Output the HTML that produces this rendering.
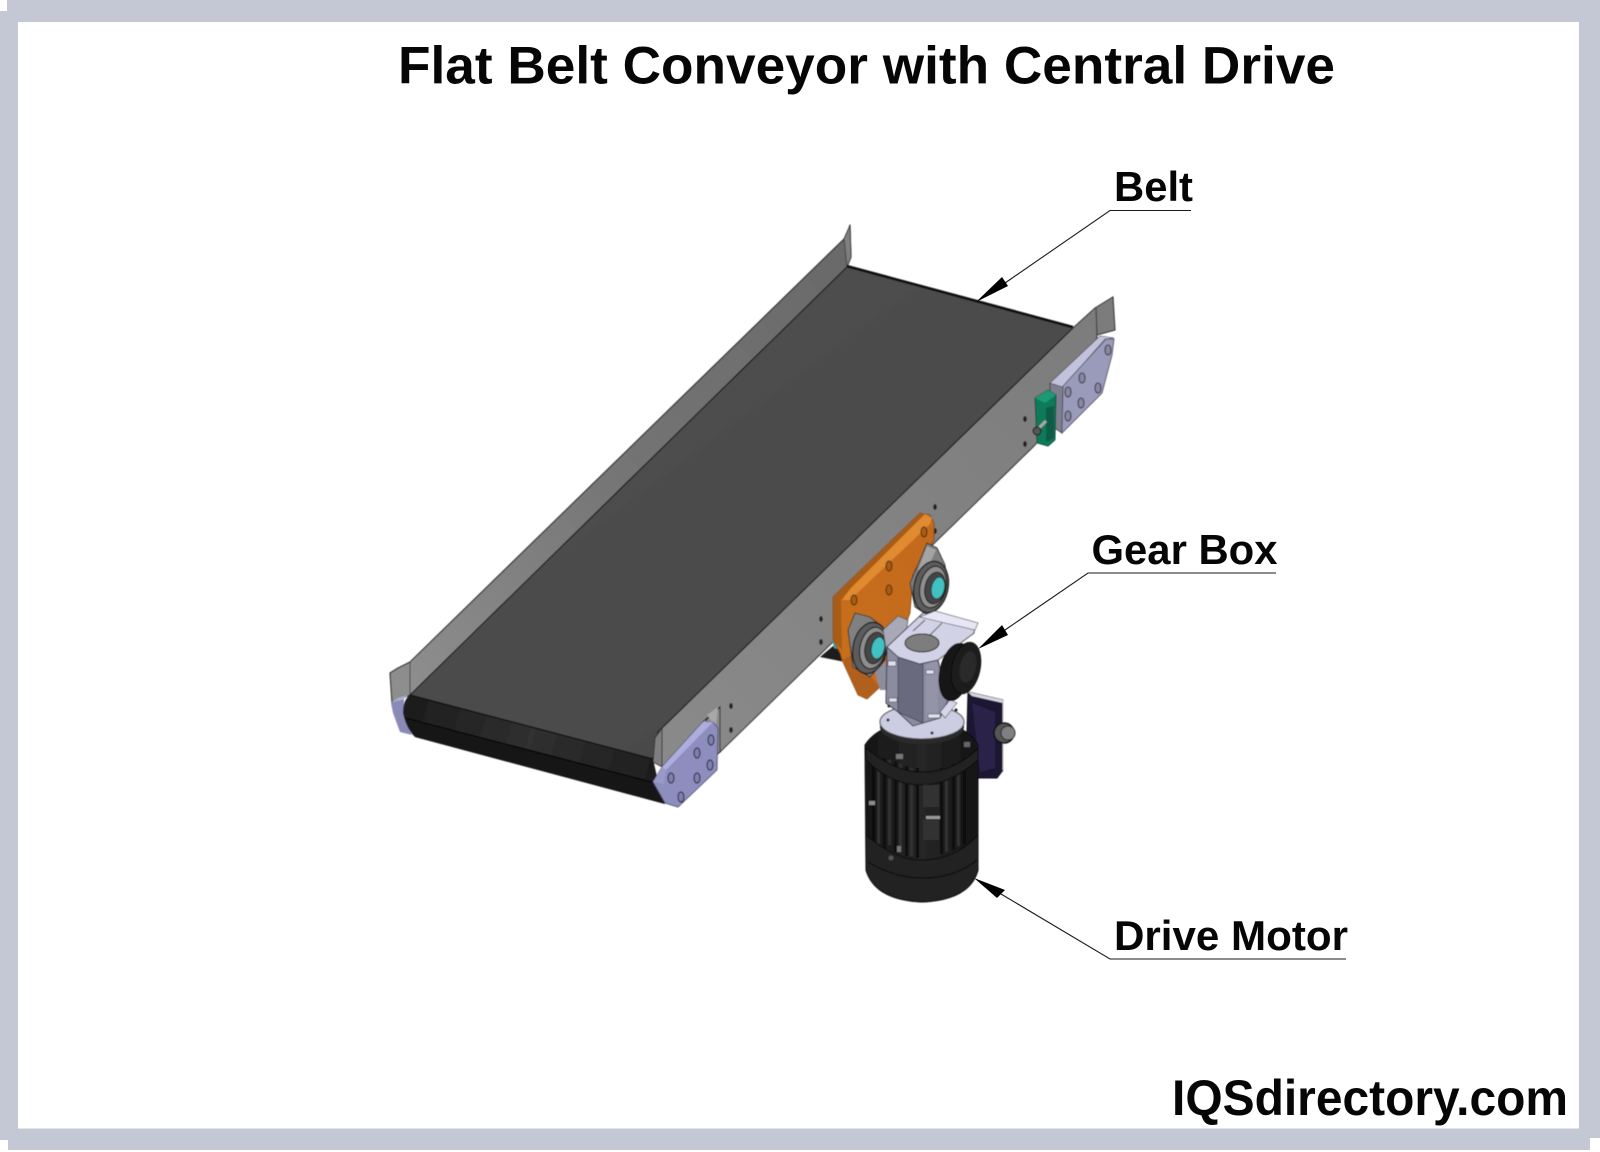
<!DOCTYPE html>
<html><head><meta charset="utf-8"><title>Flat Belt Conveyor with Central Drive</title>
<style>html,body{margin:0;padding:0;background:#fff}svg{display:block}text{font-family:"Liberation Sans",Arial,sans-serif;font-weight:bold;fill:#060606}</style></head>
<body>
<svg width="1600" height="1152" viewBox="0 0 1600 1152" xmlns="http://www.w3.org/2000/svg">
<defs>
<linearGradient id="belt" x1="0" y1="0" x2="1" y2="1"><stop offset="0" stop-color="#505050"/><stop offset="1" stop-color="#484848"/></linearGradient>
<linearGradient id="wallL" gradientUnits="userSpaceOnUse" x1="400" y1="680" x2="850" y2="245"><stop offset="0" stop-color="#8e8e8e"/><stop offset=".5" stop-color="#747474"/><stop offset="1" stop-color="#6a6a6a"/></linearGradient>
<linearGradient id="wallR" x1="0" y1="1" x2="1" y2="0"><stop offset="0" stop-color="#8a8a8a"/><stop offset="1" stop-color="#7c7c7c"/></linearGradient>
<linearGradient id="roll1" gradientUnits="userSpaceOnUse" x1="403" y1="700" x2="660" y2="770"><stop offset="0" stop-color="#1c1c1c"/><stop offset=".5" stop-color="#303030"/><stop offset="1" stop-color="#1e1e1e"/></linearGradient>
<linearGradient id="motor" x1="0" y1="0" x2="1" y2="0"><stop offset="0" stop-color="#161616"/><stop offset=".5" stop-color="#262626"/><stop offset="1" stop-color="#141414"/></linearGradient>
<linearGradient id="orange" x1="0" y1="1" x2="1" y2="0"><stop offset="0" stop-color="#c8701f"/><stop offset="1" stop-color="#c26a1c"/></linearGradient>
<filter id="soft"><feGaussianBlur stdDeviation="0.45"/></filter>
</defs>
<rect width="1600" height="1152" fill="#fff"/>
<polygon points="7,0 1600,0 1600,1138 1590,1138 1590,1150 8,1150 8,1140 0,1140 0,11 7,11" fill="#c3c8d4"/>
<rect x="18" y="22" width="1561" height="1106.5" fill="#fff"/>

<g filter="url(#soft)">
<!-- right side wall behind plates -->
<polygon points="662,728 1073,328 1095,308 1113,297 1115,330 1097,335 1095,378 1033,447 720,752 720,707 705,720 703,722 662,767" fill="url(#wallR)" stroke="#222" stroke-width="1"/>
<line x1="1096" y1="308" x2="1097" y2="335" stroke="#333" stroke-width="1"/>
<!-- left wall -->
<polygon points="390,673 398,668 410,662 844,239 849,228 850,225 851,257 847,267 410,695 392,703" fill="url(#wallL)" stroke="#222" stroke-width="1.1" stroke-linejoin="round"/>
<polygon points="844,239 849,228 850,225 851,257 847,267" fill="#7f7f7f" stroke="#333" stroke-width=".8"/>
<line x1="410" y1="662" x2="410" y2="695" stroke="#444" stroke-width="1"/>
<!-- belt -->
<polygon points="847,267 1073,328 658,732 653,759 410,695" fill="url(#belt)" stroke="#111" stroke-width="1.1" stroke-linejoin="round"/>
<line x1="847" y1="266" x2="1073" y2="327" stroke="#0a0a0a" stroke-width="2.4"/>
<polygon points="662,728 655,738 653,762 662,767" fill="#7e7e7e" stroke="#222" stroke-width=".8"/>
<!-- left end cap -->
<polygon points="391,703 404,699 404,717 412,735 400,732 393,713" fill="#8a8ab6"/>
<polygon points="391,703 404,699 408,695 398,698" fill="#aeaed4"/>
<!-- roller -->
<path d="M410,695 L653,759 L660,790 L665,804 L415,737 Q406,728 403,713 Q403,700 410,695 Z" fill="url(#roll1)"/>
<path d="M405,719 L655,783 L665,804 L415,737 Q408,730 405,719 Z" fill="#191919"/>
<line x1="405" y1="718" x2="655" y2="783" stroke="#060606" stroke-width="1.4"/>
<line x1="410" y1="695" x2="653" y2="759" stroke="#0a0a0a" stroke-width="1.2"/>
<!-- near plate -->
<polygon points="706,720 720,707 720,752 714,757" fill="#8a8a8a" stroke="#111" stroke-width="1"/>
<polygon points="707,715 718,707 716,725 712,722" fill="#a8a8a8"/>
<polygon points="653,782 662,767 703,722 713,722 718,728 717,770 678,807 665,803" fill="#8e8ebe" stroke="#444466" stroke-width=".8"/>
<polygon points="662,767 703,722 713,722 666,770" fill="#aeaede"/>
<polygon points="653,782 662,767 666,770 664,784" fill="#9a9ac8"/>
<g fill="#8080ae" stroke="#30304e" stroke-width="1.2">
<ellipse cx="711" cy="740" rx="3" ry="5"/><ellipse cx="697" cy="753" rx="3" ry="5"/><ellipse cx="710" cy="765" rx="3" ry="5"/><ellipse cx="697" cy="778" rx="3" ry="5"/><ellipse cx="671" cy="778" rx="3" ry="5"/><ellipse cx="681" cy="797" rx="3" ry="5"/></g>
<ellipse cx="731" cy="706" rx="1.8" ry="3" fill="#222"/><ellipse cx="731" cy="730" rx="1.8" ry="3" fill="#222"/>
<ellipse cx="1025" cy="419" rx="1.8" ry="3" fill="#222"/><ellipse cx="1025" cy="444" rx="1.8" ry="3" fill="#222"/>
<ellipse cx="821" cy="619" rx="1.8" ry="3" fill="#222"/><ellipse cx="821" cy="642" rx="1.8" ry="3" fill="#222"/>
<ellipse cx="935" cy="507" rx="1.8" ry="3" fill="#222"/><ellipse cx="935" cy="531" rx="1.8" ry="3" fill="#222"/>

<!-- far end plate -->
<polygon points="1050,383 1063,387 1062,433 1050,425" fill="#7e7e8e" stroke="#333" stroke-width=".8"/>
<polygon points="1050,383 1100,336 1114,338 1105,339 1063,387" fill="#c2c2dc" stroke="#445" stroke-width=".6"/>
<polygon points="1063,386 1106,339 1114,339 1112,355 1102,393 1062,433" fill="#9a9aba" stroke="#445" stroke-width=".8"/>
<g fill="#88889f" stroke="#383850" stroke-width="1.1">
<ellipse cx="1108" cy="350" rx="3" ry="5"/><ellipse cx="1082" cy="378" rx="3" ry="5"/><ellipse cx="1098" cy="388" rx="3" ry="5"/><ellipse cx="1068" cy="392" rx="3" ry="5"/><ellipse cx="1081" cy="403" rx="3" ry="5"/><ellipse cx="1068" cy="416" rx="3" ry="5"/></g>
<!-- green block -->
<polygon points="1035,398 1048,390 1056,395 1055,440 1048,446 1037,443" fill="#0f7a5a" stroke="#06392b" stroke-width=".8"/>
<polygon points="1035,398 1048,390 1056,395 1045,403" fill="#1f9a76"/>
<polygon points="1054,406 1046,408 1046,442 1054,438" fill="#0a5c44"/>
<line x1="1037" y1="430" x2="1046" y2="421" stroke="#aaa" stroke-width="3"/>
<circle cx="1037" cy="431" r="4" fill="#555" stroke="#111" stroke-width="1"/>

<!-- teal + black under plate -->
<polygon points="820,657 833,646 848,652 845,662" fill="#1e1e1e"/>
<polygon points="832,640 845,645 848,652 834,648" fill="#3fa8a0"/>
<!-- orange plate -->
<polygon points="833,597 843,587 920,513 930,515 934,523 934,540 913,573 910,613 880,687 867,699 858,695 842,660 840,653 833,640" fill="url(#orange)" stroke="#7a420e" stroke-width=".8"/>
<polygon points="833,597 843,587 920,513 925,514 851,588 841,600 842,650 833,640" fill="#a85c14"/>
<polygon points="842,600 851,588 925,514 932,518 930,524 850,600" fill="#e08a30"/>
<polygon points="842,660 852,655 880,687 867,699 858,695" fill="#b0601a"/>
<g fill="#a85c14" stroke="#4f2a08" stroke-width="1"><ellipse cx="924" cy="532" rx="3" ry="5"/><ellipse cx="889" cy="566" rx="3" ry="5"/><ellipse cx="889" cy="590" rx="3" ry="5"/><ellipse cx="854" cy="600" rx="3" ry="5"/></g>
<!-- upper bearing -->
<polygon points="927,543 937,548 945,565 947,590 934,605 923,612 915,607 910,583 917,567" fill="#7e7e7e" stroke="#2a2a2a" stroke-width=".9"/>
<polygon points="927,546 936,550 926,572 918,570" fill="#a4a4a4"/>
<ellipse cx="931" cy="587" rx="17" ry="26" fill="#5c5c5c" stroke="#1c1c1c" stroke-width="1.3" transform="rotate(12 931 587)"/>
<ellipse cx="933" cy="587" rx="13" ry="21" fill="#8e8e8e" stroke="#222" stroke-width="1.2" transform="rotate(12 933 587)"/>
<ellipse cx="935" cy="588" rx="10" ry="16" fill="#444" stroke="#222" stroke-width="1" transform="rotate(12 935 588)"/>
<ellipse cx="938" cy="588" rx="6.5" ry="11" fill="#3fc2c2" stroke="#333" stroke-width=".8" transform="rotate(12 938 588)"/>
<!-- lower bearing -->
<polygon points="855,613 870,617 883,627 885,660 870,677 853,667 848,630" fill="#808080" stroke="#2a2a2a" stroke-width=".9"/>
<ellipse cx="870" cy="648" rx="17" ry="26" fill="#5c5c5c" stroke="#1c1c1c" stroke-width="1.3" transform="rotate(12 870 648)"/>
<ellipse cx="873" cy="648" rx="13" ry="21" fill="#8e8e8e" stroke="#222" stroke-width="1.2" transform="rotate(12 873 648)"/>
<ellipse cx="875" cy="648" rx="10" ry="16" fill="#444" stroke="#222" stroke-width="1" transform="rotate(12 875 648)"/>
<ellipse cx="878" cy="648" rx="6.5" ry="11" fill="#3fc2c2" stroke="#333" stroke-width=".8" transform="rotate(12 878 648)"/>
<polygon points="883,630 898,616 908,620 905,640 887,655" fill="#a8a8b6" stroke="#444" stroke-width=".7"/>
<polygon points="875,672 887,660 888,690 880,690" fill="#8c8c9c"/>

<!-- terminal box -->
<polygon points="968,692 1003,700 1003,770 997,778 978,778 966,770" fill="#1b1430" stroke="#0a0814" stroke-width="1"/>
<polygon points="968,692 1003,700 1003,703 972,696" fill="#d8d8e4"/>
<line x1="1003" y1="700" x2="1003" y2="770" stroke="#bbb" stroke-width="1"/>
<polygon points="972,703 995,712 995,768 980,772" fill="#2c2148"/>
<circle cx="1004" cy="733" r="10" fill="#555" stroke="#111" stroke-width="1.5"/>
<circle cx="1008" cy="733" r="7" fill="#808080" stroke="#222" stroke-width="1"/>
<!-- motor -->
<path d="M865,745 Q880,722 922,722 Q966,722 978,745 L978,870 Q970,900 922,902 Q875,900 866,870 Z" fill="url(#motor)" stroke="#0a0a0a" stroke-width="1"/>
<g fill="#0b0b0b">
<rect x="872" y="760" width="3" height="85"/><rect x="883" y="758" width="3" height="90"/><rect x="894" y="762" width="3" height="90"/><rect x="905" y="766" width="3" height="90"/><rect x="916" y="768" width="3" height="90"/><rect x="940" y="768" width="3" height="86"/><rect x="952" y="764" width="3" height="86"/><rect x="963" y="758" width="3" height="86"/></g>
<g fill="#303030">
<rect x="877" y="762" width="3" height="82"/><rect x="888" y="760" width="3" height="85"/><rect x="899" y="764" width="3" height="88"/><rect x="910" y="768" width="3" height="88"/><rect x="945" y="770" width="3" height="82"/><rect x="957" y="766" width="3" height="80"/></g>
<path d="M866,835 Q895,860 922,860 Q955,860 978,835 L978,870 Q970,900 922,902 Q875,900 866,870 Z" fill="#232323" stroke="#0c0c0c" stroke-width="1"/>
<path d="M868,862 Q895,878 922,878 Q955,878 977,860" fill="none" stroke="#0c0c0c" stroke-width="1.2"/>
<path d="M866,748 Q895,772 922,772 Q955,772 978,748 L978,760 Q950,785 922,785 Q890,785 866,760 Z" fill="#202020" stroke="#0c0c0c" stroke-width="1"/>
<rect x="923" y="785" width="16" height="22" fill="#333"/><rect x="923" y="820" width="16" height="20" fill="#333"/>
<rect x="926" y="816" width="14" height="3" fill="#999"/>
<rect x="896" y="754" width="7" height="5" fill="#777"/><rect x="869" y="801" width="6" height="4" fill="#8c8c8c"/><rect x="897" y="846" width="4" height="6" fill="#777"/><rect x="964" y="742" width="6" height="5" fill="#666"/>
<circle cx="891" cy="858" r="2.5" fill="#555"/>
<!-- round flange -->
<ellipse cx="922" cy="727" rx="42" ry="17" fill="#2a2a2a"/>
<ellipse cx="922" cy="722" rx="42" ry="17" fill="#ccccE2" stroke="#444" stroke-width="1"/>
<circle cx="888" cy="720" r="1.5" fill="#222"/><circle cx="956" cy="710" r="1.5" fill="#222"/><circle cx="932" cy="733" r="1.5" fill="#222"/><circle cx="889" cy="706" r="1.5" fill="#222"/>
<!-- gearbox -->
<polygon points="887,647 886,703 898,712 913,726 940,718 948,700 938,660" fill="#8c8ca0" stroke="#2b2b35" stroke-width=".9"/>
<polygon points="898,655 923,664 923,723 898,712" fill="#6b6b7e" stroke="#333" stroke-width=".6"/>
<polygon points="926,665 937,659 938,712 926,720" fill="#9494a8"/>
<polygon points="887,647 923,613 975,623 974,633 938,660 920,664 898,657" fill="#d2d2e6" stroke="#2b2b35" stroke-width=".9"/>
<polygon points="920,617 935,611 978,623 975,630 928,619" fill="#e6e6f4" stroke="#333" stroke-width=".6"/>
<line x1="925" y1="620" x2="913" y2="631" stroke="#444" stroke-width="1"/>
<line x1="942" y1="623" x2="930" y2="635" stroke="#555" stroke-width="1"/>
<ellipse cx="922" cy="643" rx="17" ry="9" fill="#7d7d7d" stroke="#222" stroke-width="1"/>
<g fill="#e0e0ee" stroke="#333" stroke-width=".5"><rect x="888" y="661" width="8" height="5"/><rect x="926" y="670" width="8" height="4"/><rect x="889" y="698" width="8" height="4"/><rect x="928" y="714" width="12" height="4"/></g>
<polygon points="940,712 950,700 957,703 945,718" fill="#d6d6ea" stroke="#333" stroke-width=".6"/>
<!-- gearbox cap -->
<ellipse cx="955" cy="672" rx="15" ry="29" fill="#141414" stroke="#060606" stroke-width="1" transform="rotate(12 955 672)"/>
<ellipse cx="966" cy="668" rx="14" ry="26" fill="#1f1f1f" stroke="#0a0a0a" stroke-width="1" transform="rotate(12 966 668)"/>
<ellipse cx="968" cy="667" rx="8" ry="16" fill="#2a2a2a" transform="rotate(12 968 667)"/>
</g>

<!-- leaders -->
<g stroke="#1a1a1a" stroke-width="1.1" fill="none">
<polyline points="1005,283 1110,210.5 1191,210.5"/>
<polyline points="1005,630 1088,573 1276,573"/>
<polyline points="1001,894 1110,959 1346,959"/>
</g>
<polygon points="976,302 1002,277 1008,286" fill="#000"/>
<polygon points="978,649 1002,625 1008,635" fill="#000"/>
<polygon points="974,878 997,898 1005,890" fill="#000"/>

<!-- text -->
<text x="398" y="83.5" font-size="53" textLength="937" lengthAdjust="spacingAndGlyphs">Flat Belt Conveyor with Central Drive</text>
<text x="1114" y="201" font-size="42" textLength="79" lengthAdjust="spacingAndGlyphs">Belt</text>
<text x="1091.5" y="564" font-size="42" textLength="186" lengthAdjust="spacingAndGlyphs">Gear Box</text>
<text x="1114" y="950" font-size="42" textLength="234" lengthAdjust="spacingAndGlyphs">Drive Motor</text>
<text x="1172" y="1115" font-size="50" textLength="396" lengthAdjust="spacingAndGlyphs">IQSdirectory.com</text>
</svg>
</body></html>
